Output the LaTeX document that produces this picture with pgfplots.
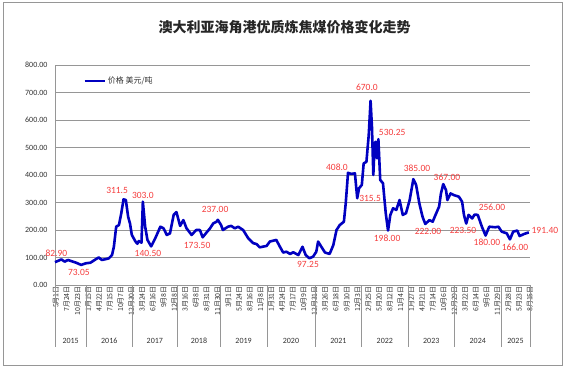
\documentclass[border=0pt]{standalone}
\usepackage{fontspec}
\setmainfont{Carlito}
\newfontfamily\cjk{Noto Sans CJK SC}
\usepackage{pgfplots}
\pgfplotsset{compat=1.18}
\definecolor{lineblue}{RGB}{0,0,192}
\definecolor{lblred}{RGB}{245,60,60}
\definecolor{gridgray}{RGB}{150,150,150}
\definecolor{txtgray}{RGB}{50,50,50}
\begin{document}
\begin{tikzpicture}
\begin{axis}[
  at={(0pt,0pt)}, anchor=south west,
  scale only axis, width=475pt, height=220pt,
  xmin=2015.33, xmax=2025.656, ymin=0, ymax=800,
  clip=false,
  axis lines*=left,
  axis line style={gridgray, line width=0.8pt},
  ytick={0,100,...,800},
  ymajorgrids, grid style={gridgray, line width=0.8pt},
  major tick length=0pt,
  scaled x ticks=false,
  /pgf/number format/assume math mode=true,
  yticklabel style={/pgf/number format/fixed, /pgf/number format/fixed zerofill, /pgf/number format/precision=2, font=\fontsize{8}{9}\selectfont, text=txtgray, xshift=-4pt},
  xtick={2015.352,2015.586,2015.820,2016.054,2016.288,2016.523,2016.757,2016.991,2017.225,2017.459,2017.693,2017.927,2018.161,2018.395,2018.629,2018.864,2019.098,2019.332,2019.566,2019.800,2020.034,2020.268,2020.502,2020.736,2020.970,2021.205,2021.439,2021.673,2021.907,2022.141,2022.375,2022.609,2022.843,2023.077,2023.311,2023.546,2023.780,2024.014,2024.248,2024.482,2024.716,2024.950,2025.184,2025.418,2025.652},
  xticklabels={5月1日,7月24日,10月23日,1月15日,4月22日,7月15日,10月7日,12月30日,3月24日,6月16日,9月8日,12月8日,3月16日,6月8日,8月31日,11月30日,3月1日,5月24日,8月16日,11月8日,1月31日,4月24日,7月17日,10月9日,12月31日,3月26日,6月18日,9月10日,12月3日,2月25日,5月20日,8月12日,11月4日,1月27日,4月21日,7月14日,10月6日,12月29日,3月22日,6月14日,9月6日,11月29日,2月28日,5月23日,8月15日},
  xticklabel style={rotate=90, anchor=east, font=\cjk\fontsize{7}{7}\selectfont, text=txtgray, inner sep=1pt},
  legend style={at={(0.059,0.927)}, anchor=west, draw=none, fill=none, inner sep=0pt, font=\cjk\fontsize{8}{9}\selectfont, text=txtgray},
  legend image code/.code={\draw[#1] (0pt,0pt) -- (20pt,0pt);},
]
\addplot[lineblue, line width=2.6pt, line join=round] coordinates {
(2015.33,83) (2015.40,88) (2015.47,93) (2015.54,85) (2015.61,91) (2015.70,86) (2015.79,81) (2015.90,73.05)
(2016.00,79) (2016.10,81) (2016.21,93) (2016.28,100) (2016.35,91) (2016.43,94) (2016.50,97) (2016.57,109)
(2016.61,139) (2016.66,212) (2016.72,218) (2016.77,260) (2016.82,311.5) (2016.87,309) (2016.92,248) (2016.96,224)
(2017.00,182) (2017.08,158) (2017.12,150) (2017.15,160) (2017.21,154) (2017.24,303) (2017.29,212) (2017.34,164)
(2017.42,140.5) (2017.51,170) (2017.62,212) (2017.69,206) (2017.76,182) (2017.83,188) (2017.91,255) (2017.97,265)
(2018.05,215) (2018.12,236) (2018.19,206) (2018.30,182) (2018.40,200) (2018.48,200) (2018.54,173.5) (2018.61,188)
(2018.70,206) (2018.77,224) (2018.84,230) (2018.87,237) (2018.94,218) (2018.98,200) (2019.09,212) (2019.16,215)
(2019.24,206) (2019.31,212) (2019.42,200) (2019.53,170) (2019.64,152) (2019.71,149) (2019.78,137) (2019.93,142)
(2020.00,158) (2020.14,164) (2020.22,139) (2020.29,118) (2020.36,121) (2020.44,113) (2020.51,119) (2020.62,109)
(2020.71,139) (2020.78,109) (2020.86,97.25) (2020.94,103) (2021.01,121) (2021.05,158) (2021.12,139) (2021.20,118)
(2021.30,113) (2021.38,145) (2021.45,200) (2021.52,218) (2021.61,230) (2021.65,297) (2021.70,408) (2021.77,404)
(2021.85,406) (2021.90,315.5) (2021.94,352) (2022.00,364) (2022.04,442) (2022.10,448) (2022.15,545) (2022.19,670)
(2022.22,576) (2022.25,400) (2022.28,515) (2022.30,521) (2022.33,461) (2022.36,530.25) (2022.40,382) (2022.46,370)
(2022.52,261) (2022.57,198) (2022.62,255) (2022.68,279) (2022.75,273) (2022.82,309) (2022.89,255) (2022.96,261)
(2023.04,309) (2023.12,385) (2023.18,364) (2023.25,297) (2023.32,248) (2023.38,222) (2023.47,236) (2023.54,230)
(2023.61,258) (2023.68,285) (2023.72,333) (2023.77,367) (2023.83,345) (2023.86,309) (2023.93,333) (2024.00,327)
(2024.11,321) (2024.18,303) (2024.22,255) (2024.27,223.5) (2024.32,255) (2024.40,242) (2024.45,256) (2024.52,255)
(2024.61,212) (2024.69,180) (2024.77,212) (2024.90,210) (2024.97,212) (2025.04,194) (2025.15,188) (2025.22,166)
(2025.29,194) (2025.38,198) (2025.43,178) (2025.52,185) (2025.63,191.4)
};
\addlegendentry{价格 美元/吨}
% data labels
\begin{scope}[every node/.style={text=lblred, font=\fontsize{9.5}{10}\selectfont, inner sep=0pt}]
\node at (axis cs:2015.36,115) {82.90};
\node at (axis cs:2015.85,44) {73.05};
\node at (axis cs:2016.68,345) {311.5};
\node at (axis cs:2017.24,324) {303.0};
\node at (axis cs:2017.35,116) {140.50};
\node at (axis cs:2018.42,142) {173.50};
\node at (axis cs:2018.81,273) {237.00};
\node at (axis cs:2020.83,73) {97.25};
\node at (axis cs:2021.46,429) {408.0};
\node at (axis cs:2022.18,316) {315.5};
\node at (axis cs:2022.11,720) {670.0};
\node at (axis cs:2022.66,556) {530.25};
\node at (axis cs:2022.55,171) {198.00};
\node at (axis cs:2023.20,425) {385.00};
\node at (axis cs:2023.44,193) {222.00};
\node at (axis cs:2023.85,393) {367.00};
\node at (axis cs:2024.20,200) {223.50};
\node at (axis cs:2024.83,284) {256.00};
\node at (axis cs:2024.72,156) {180.00};
\node at (axis cs:2025.33,138) {166.00};
\node at (axis cs:2025.98,200) {191.40};
\end{scope}
% year group separators
\pgfplotsinvokeforeach{2015.33,2016.011,2017.011,2017.989,2018.924,2019.946,2020.98,2022.0,2023.01,2024.02,2025.03,2025.656}{
  \draw[gridgray, line width=0.8pt] (axis cs:#1,0) -- ++(0pt,-62pt);
}
\begin{scope}[every node/.style={text=txtgray, font=\fontsize{8}{9}\selectfont}]
\node at ([yshift=-56pt]axis cs:2015.67,0) {2015};
\node at ([yshift=-56pt]axis cs:2016.51,0) {2016};
\node at ([yshift=-56pt]axis cs:2017.50,0) {2017};
\node at ([yshift=-56pt]axis cs:2018.46,0) {2018};
\node at ([yshift=-56pt]axis cs:2019.43,0) {2019};
\node at ([yshift=-56pt]axis cs:2020.46,0) {2020};
\node at ([yshift=-56pt]axis cs:2021.49,0) {2021};
\node at ([yshift=-56pt]axis cs:2022.50,0) {2022};
\node at ([yshift=-56pt]axis cs:2023.51,0) {2023};
\node at ([yshift=-56pt]axis cs:2024.52,0) {2024};
\node at ([yshift=-56pt]axis cs:2025.34,0) {2025};
\end{scope}
\end{axis}
\node[font=\cjk\bfseries\fontsize{14}{16}\selectfont, text=black!85] at (229.5pt,258pt) {澳大利亚海角港优质炼焦煤价格变化走势};
\draw[gridgray, line width=1pt] (-51pt,-80pt) rectangle (507pt,282pt);
\pgfresetboundingbox
\path[use as bounding box] (-55pt,-85pt) rectangle (513pt,285pt);
\end{tikzpicture}
\end{document}
